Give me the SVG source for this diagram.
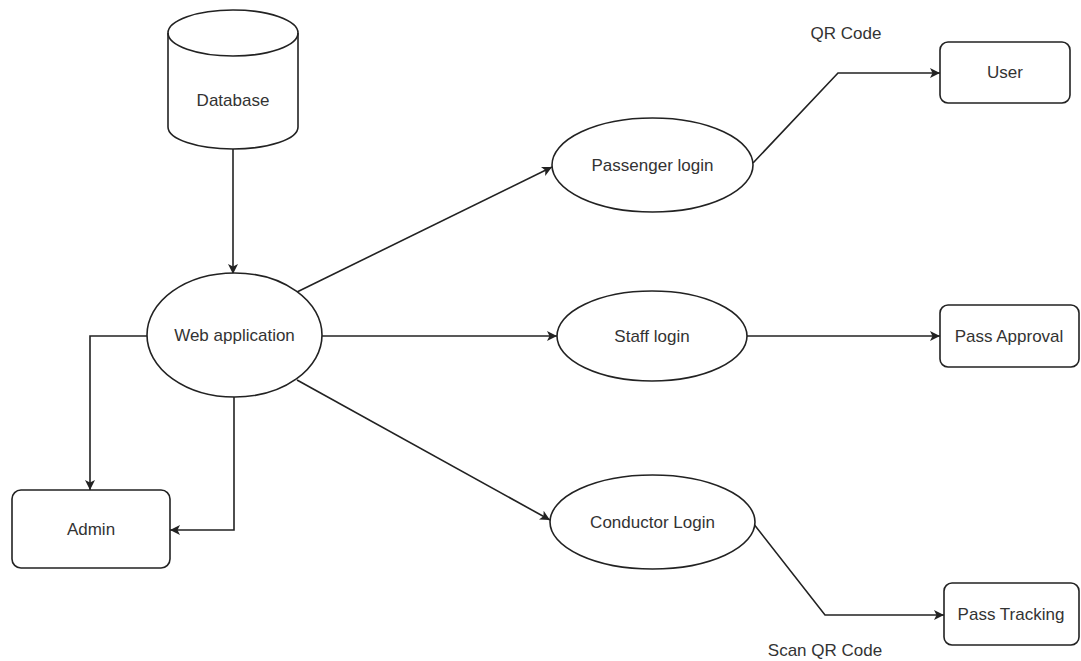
<svg xmlns="http://www.w3.org/2000/svg" width="1081" height="661" viewBox="0 0 1081 661">
<style>
.s{fill:#fff;stroke:#222;stroke-width:1.6}
.c{fill:none;stroke:#222;stroke-width:1.6}
.t{font-family:"Liberation Sans",Arial,sans-serif;font-size:17px;fill:#333;text-anchor:middle;dominant-baseline:central}
</style>
<defs>
<marker id="a" viewBox="0 0 10 10" refX="10" refY="5" markerWidth="10" markerHeight="10" markerUnits="userSpaceOnUse" orient="auto">
<path d="M0,0 L10,5 L0,10 L2.5,5 Z" fill="#222"/>
</marker>
</defs>
<rect width="1081" height="661" fill="#fff"/>
<g id="connectors">
<path class="c" d="M233,149 L233,274" marker-end="url(#a)"/>
<path class="c" d="M297,292 L552,167" marker-end="url(#a)"/>
<path class="c" d="M322,336 L557,336" marker-end="url(#a)"/>
<path class="c" d="M297,380 L550,520" marker-end="url(#a)"/>
<path class="c" d="M147,336 L90,336 L90,490" marker-end="url(#a)"/>
<path class="c" d="M234,397 L234,530 L170,530" marker-end="url(#a)"/>
<path class="c" d="M753,163 L838,73 L940,73" marker-end="url(#a)"/>
<path class="c" d="M747,336 L940,336" marker-end="url(#a)"/>
<path class="c" d="M753,523 L825,615 L944,615" marker-end="url(#a)"/>
</g>
<g id="database">
<path class="s" d="M168,33 A65,23 0 0 1 298,33 L298,127 A65,22 0 0 1 168,127 Z"/>
<path class="c" d="M168,33 A65,23 0 0 0 298,33"/>
<text class="t" x="233" y="100">Database</text>
</g>
<g id="webapp">
<ellipse class="s" cx="234.5" cy="335" rx="87.5" ry="62"/>
<text class="t" x="234.5" y="335">Web application</text>
</g>
<g id="admin">
<rect class="s" x="12" y="490" width="158" height="78" rx="9"/>
<text class="t" x="91" y="529">Admin</text>
</g>
<g id="passenger">
<ellipse class="s" cx="652.5" cy="165" rx="100.5" ry="47"/>
<text class="t" x="652.5" y="165">Passenger login</text>
</g>
<g id="staff">
<ellipse class="s" cx="652" cy="336" rx="95" ry="45"/>
<text class="t" x="652" y="336">Staff login</text>
</g>
<g id="conductor">
<ellipse class="s" cx="652.5" cy="522" rx="102.5" ry="47"/>
<text class="t" x="652.5" y="522">Conductor Login</text>
</g>
<g id="user">
<rect class="s" x="940" y="42" width="130" height="61" rx="8"/>
<text class="t" x="1005" y="72">User</text>
</g>
<g id="approval">
<rect class="s" x="940" y="305" width="139" height="62" rx="8"/>
<text class="t" x="1009" y="336">Pass Approval</text>
</g>
<g id="tracking">
<rect class="s" x="944" y="583" width="135" height="62" rx="8"/>
<text class="t" x="1011" y="614">Pass Tracking</text>
</g>
<text class="t" x="846" y="33">QR Code</text>
<text class="t" x="825" y="650">Scan QR Code</text>
</svg>
